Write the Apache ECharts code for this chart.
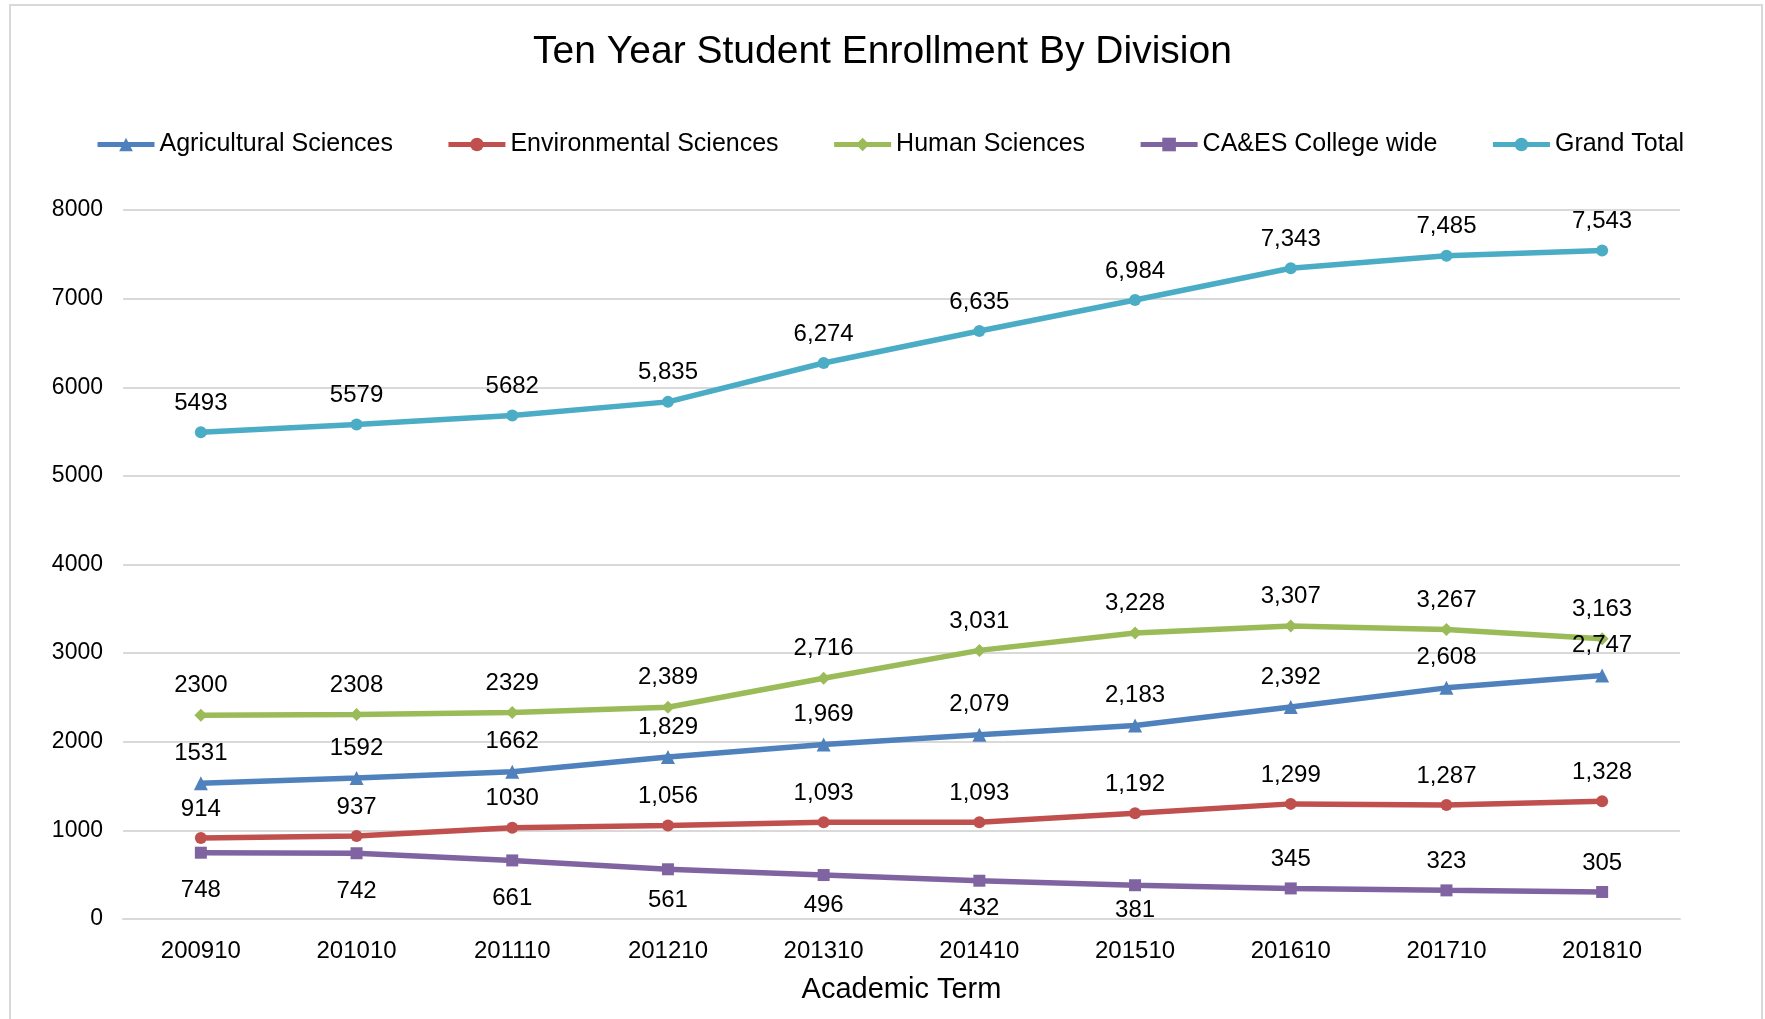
<!DOCTYPE html>
<html>
<head>
<meta charset="utf-8">
<script src="https://cdn.jsdelivr.net/npm/echarts@6/dist/echarts.min.js"></script>
<style>
html,body{margin:0;padding:0;background:#fff;}
#c{width:1765px;height:1019px;}
</style>
</head>
<body>
<div id="c"></div>
<script>
var terms = ['200910','201010','201110','201210','201310','201410','201510','201610','201710','201810'];
var agricultural = [1531, 1592, 1662, 1829, 1969, 2079, 2183, 2392, 2608, 2747];
var environmental = [914, 937, 1030, 1056, 1093, 1093, 1192, 1299, 1287, 1328];
var human = [2300, 2308, 2329, 2389, 2716, 3031, 3228, 3307, 3267, 3163];
var collegeWide = [748, 742, 661, 561, 496, 432, 381, 345, 323, 305];
var grandTotal = [5493, 5579, 5682, 5835, 6274, 6635, 6984, 7343, 7485, 7543];
var yTicks = [0, 1000, 2000, 3000, 4000, 5000, 6000, 7000, 8000];

var FONT = '"Liberation Sans", Arial, sans-serif';
function fmt(p){
  var v = p.value;
  return p.dataIndex < 3 ? String(v) : v.toLocaleString('en-US');
}
function mk(name, data, color, symbol, size){
  return {
    name: name, type: 'line', data: data,
    symbol: symbol, symbolSize: size,
    itemStyle: {color: color},
    lineStyle: {color: color, width: 5.5},
    label: {show: true, position: 'top', distance: 11, formatter: fmt,
            color: '#000', fontSize: 24, fontFamily: FONT},
    z: 3
  };
}
// label placement (style only): below the marker for the first seven points
var belowGap = [20, 20, 20, 13, 12, 10, 7];
var collegeData = collegeWide.map(function(v, i){
  return i < belowGap.length ? {value: v, label: {position: 'bottom', distance: belowGap[i]}} : {value: v};
});

var chart = echarts.init(document.getElementById('c'), null, {renderer: 'canvas'});
chart.setOption({
  backgroundColor: '#fff',
  animation: false,
  graphic: [{type: 'rect', shape: {x: 10, y: 5, width: 1752, height: 1030},
             style: {fill: 'none', stroke: '#d9d9d9', lineWidth: 2}, z: 0}],
  title: {
    text: 'Ten Year Student Enrollment By Division',
    left: 'center', top: 28,
    textStyle: {fontFamily: FONT, fontSize: 39, fontWeight: 'normal', color: '#000'}
  },
  legend: {
    left: 90, top: 127,
    itemWidth: 57, itemHeight: 17, itemGap: 53,
    lineStyle: {width: 5},
    textStyle: {fontFamily: FONT, fontSize: 25, color: '#000'},
    data: ['Agricultural Sciences','Environmental Sciences','Human Sciences','CA&ES College wide','Grand Total']
  },
  grid: {left: 123, right: 85, top: 210, bottom: 100, containLabel: false},
  xAxis: {
    type: 'category', data: terms, boundaryGap: true,
    name: 'Academic Term', nameLocation: 'middle', nameGap: 56,
    nameTextStyle: {fontFamily: FONT, fontSize: 29, color: '#000'},
    axisLine: {lineStyle: {color: '#d9d9d9', width: 2}},
    axisTick: {show: false},
    axisLabel: {fontFamily: FONT, fontSize: 24, color: '#000', margin: 20}
  },
  yAxis: {
    type: 'value', min: 0, max: 8000, interval: 1000,
    axisLine: {show: false}, axisTick: {show: false},
    splitLine: {lineStyle: {color: '#d9d9d9', width: 2}},
    axisLabel: {fontFamily: FONT, fontSize: 23, color: '#000', margin: 20,
      formatter: function(v){ return yTicks.indexOf(v) >= 0 ? String(v) : ''; }}
  },
  series: [
    mk('Agricultural Sciences', agricultural, '#4F81BD', 'triangle', 14),
    mk('Environmental Sciences', environmental, '#C0504D', 'circle', 12),
    mk('Human Sciences', human, '#9BBB59', 'diamond', 13),
    mk('CA&ES College wide', collegeData, '#8064A2', 'rect', 12),
    mk('Grand Total', grandTotal, '#4BACC6', 'circle', 12)
  ]
});
</script>
</body>
</html>
